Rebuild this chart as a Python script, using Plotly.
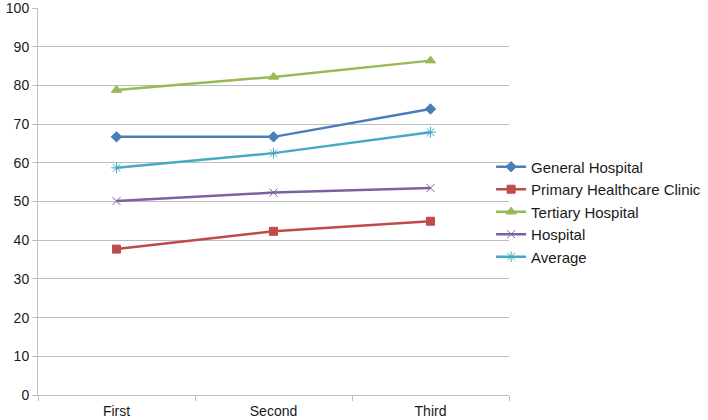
import plotly.graph_objects as go

categories = ["First", "Second", "Third"]
general_hospital = [66.7, 66.7, 73.9]
primary_clinic = [37.7, 42.3, 44.9]
tertiary_hospital = [78.8, 82.2, 86.4]
hospital = [50.1, 52.3, 53.5]
average = [58.7, 62.5, 67.9]

series = [
    ("General Hospital", general_hospital, "#4A7EBB", "diamond", 8),
    ("Primary Healthcare Clinic", primary_clinic, "#BE4B48", "square", 8),
    ("Tertiary Hospital", tertiary_hospital, "#98B954", "triangle-up", 9),
    ("Hospital", hospital, "#7D60A0", "x-thin-open", 8),
    ("Average", average, "#46AAC5", "asterisk-open", 9),
]

fig = go.Figure()
for name, vals, color, sym, size in series:
    fig.add_trace(go.Scatter(
        x=categories, y=vals, name=name, mode="lines+markers",
        line=dict(color=color, width=2.5),
        marker=dict(symbol=sym, size=size, color=color, line=dict(color=color, width=1)),
    ))

fig.update_layout(
    width=708, height=420,
    margin=dict(l=38, r=199, t=8, b=25, autoexpand=False),
    paper_bgcolor="white", plot_bgcolor="white",
    font=dict(family="Liberation Sans, Arial, sans-serif", size=14, color="#1a1a1a"),
    showlegend=True,
    legend=dict(x=0.962, y=0.473, xanchor="left", yanchor="middle",
                font=dict(size=15), tracegroupgap=0, itemwidth=30,
                bgcolor="rgba(0,0,0,0)"),
)
fig.update_xaxes(
    type="category", showgrid=False, showline=True, linecolor="#BDBDBD", linewidth=1,
    ticks="outside", tickson="boundaries", ticklen=5, tickcolor="#BDBDBD",
    range=[-0.5, 2.5], automargin=False, ticklabeloverflow="allow",
    ticklabelstandoff=3,
)
fig.update_yaxes(
    range=[0, 100], dtick=10, showgrid=True, gridcolor="#BDBDBD", gridwidth=1,
    showline=True, linecolor="#BDBDBD", linewidth=1, ticks="outside", ticklen=5,
    tickcolor="#BDBDBD", zeroline=False, automargin=False, ticklabeloverflow="allow",
)
fig.write_html(
    "out.html",
    config={"displayModeBar": False},
    post_script="document.body.style.margin='0';document.body.style.overflow='hidden';",
)
